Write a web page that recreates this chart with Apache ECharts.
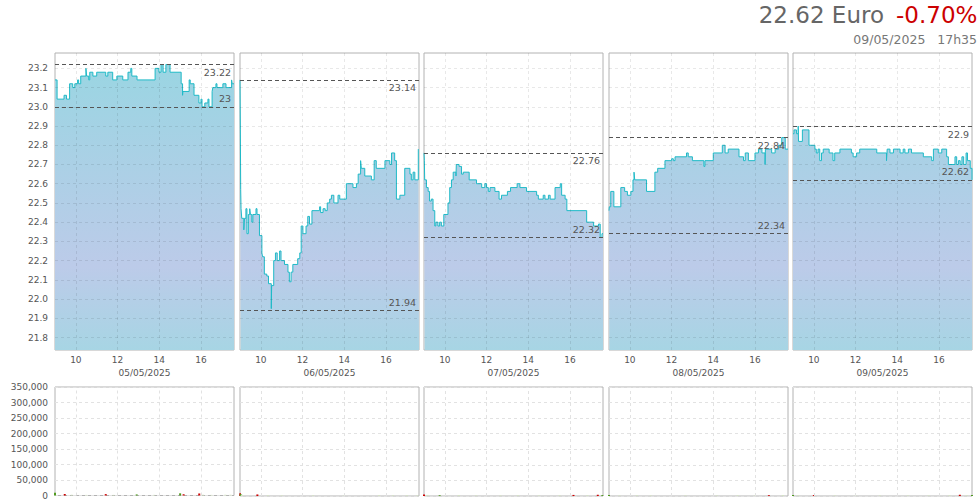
<!DOCTYPE html>
<html><head><meta charset="utf-8">
<script src="https://cdn.jsdelivr.net/npm/echarts@6/dist/echarts.min.js"></script>
<style>html,body{margin:0;padding:0;background:#fff}#c{width:980px;height:500px}</style>
</head><body><div id="c"></div>
<script>
// ---- data ----
const lastPriceText = '22.62 Euro';
const changeText = '-0.70%';
const stampText = '09/05/2025   17h35';
const dayLabels = ['05/05/2025', '06/05/2025', '07/05/2025', '08/05/2025', '09/05/2025'];
const hourTicks = [10, 12, 14, 16];
const priceTicks = [21.8, 21.9, 22.0, 22.1, 22.2, 22.3, 22.4, 22.5, 22.6, 22.7, 22.8, 22.9, 23.0, 23.1, 23.2];
const dayHigh = [23.22, 23.14, 22.76, 22.84, 22.9];
const dayLow = [23, 21.94, 22.32, 22.34, 22.62];

const d1Times = ['09:00','09:06','09:26','09:33','09:42','09:51','09:57','10:05','10:08','10:14','10:29','10:31','10:37','10:40','10:49','11:00','11:26','11:32','11:46','11:58','12:15','12:30','12:38','12:41','12:56','13:48','13:59','14:05','14:11','14:19','14:31','15:03','15:07','15:08','15:26','15:29','15:40','15:54','16:00','16:03','16:11','16:20','16:23','16:32','16:34','16:43','16:46','17:03','17:12','17:28','17:30','17:35'];
const d1Prices = [23.14,23.04,23.06,23.04,23.12,23.10,23.12,23.14,23.12,23.16,23.20,23.16,23.14,23.18,23.16,23.18,23.16,23.18,23.14,23.16,23.14,23.18,23.20,23.16,23.14,23.20,23.18,23.22,23.18,23.22,23.18,23.12,23.06,23.08,23.14,23.12,23.06,23.02,23.04,23.00,23.02,23.04,23.00,23.08,23.10,23.12,23.10,23.12,23.10,23.14,23.12,23.12];

const d2Times = ['09:00','09:01','09:02','09:03','09:05','09:11','09:13','09:17','09:20','09:24','09:28','09:30','09:34','09:37','09:46','09:49','09:56','10:03','10:05','10:10','10:17','10:22','10:30','10:31','10:37','10:42','10:47','10:54','10:58','11:08','11:18','11:22','11:27','11:32','11:46','11:52','11:56','12:01','12:10','12:15','12:20','12:27','12:49','12:52','12:59','13:05','13:11','13:18','13:23','13:30','13:42','13:47','14:06','14:25','14:35','14:40','14:47','14:49','14:59','15:18','15:26','15:32','15:57','16:11','16:16','16:25','16:30','16:40','16:54','17:09','17:13','17:18','17:23','17:33','17:35'];
const d2Prices = [23.14,22.88,22.57,22.47,22.42,22.36,22.42,22.47,22.34,22.44,22.47,22.44,22.40,22.44,22.47,22.44,22.33,22.24,22.22,22.13,22.12,22.08,21.95,22.07,22.20,22.24,22.20,22.25,22.20,22.18,22.14,22.09,22.14,22.18,22.21,22.24,22.38,22.34,22.38,22.43,22.39,22.46,22.48,22.45,22.47,22.46,22.50,22.52,22.54,22.50,22.54,22.52,22.60,22.58,22.60,22.65,22.72,22.68,22.64,22.62,22.72,22.68,22.72,22.70,22.76,22.72,22.52,22.54,22.68,22.65,22.62,22.66,22.62,22.78,22.78];

const d3Times = ['09:00','09:01','09:02','09:07','09:12','09:16','09:21','09:26','09:31','09:34','09:40','09:45','09:50','09:57','10:09','10:14','10:19','10:24','10:32','10:33','10:41','10:48','10:53','11:10','11:31','11:46','11:55','12:00','12:05','12:10','12:24','12:36','12:43','13:00','13:09','13:28','13:36','13:55','14:24','14:29','14:43','14:48','14:58','15:03','15:17','15:32','15:36','15:46','15:51','16:48','17:08','17:22','17:27','17:32','17:35'];
const d3Prices = [22.76,22.72,22.62,22.58,22.56,22.51,22.52,22.46,22.38,22.40,22.38,22.40,22.38,22.44,22.50,22.58,22.62,22.66,22.64,22.70,22.69,22.65,22.66,22.62,22.60,22.58,22.60,22.58,22.56,22.58,22.56,22.52,22.54,22.56,22.58,22.60,22.58,22.56,22.54,22.52,22.54,22.52,22.54,22.52,22.58,22.60,22.54,22.52,22.46,22.40,22.38,22.39,22.32,22.34,22.34];

const d4Times = ['09:00','09:01','09:05','09:14','09:34','09:45','09:53','10:03','10:09','10:12','10:14','10:48','11:12','11:20','11:41','12:00','12:05','12:10','12:43','12:48','13:00','13:33','13:36','14:00','14:26','14:34','14:43','15:14','15:27','15:32','15:41','16:00','16:10','16:20','16:29','16:30','16:48','16:58','17:08','17:17','17:27','17:35'];
const d4Prices = [22.46,22.48,22.56,22.48,22.58,22.56,22.54,22.56,22.62,22.66,22.62,22.56,22.66,22.68,22.72,22.73,22.72,22.74,22.76,22.74,22.72,22.69,22.72,22.76,22.80,22.76,22.78,22.74,22.72,22.76,22.72,22.76,22.78,22.76,22.70,22.78,22.76,22.78,22.80,22.84,22.78,22.78];

const d5Times = ['09:00','09:03','09:10','09:15','09:16','09:27','09:46','10:03','10:07','10:12','10:17','10:22','10:27','10:44','10:55','11:00','11:15','11:48','11:53','12:03','12:12','13:01','13:29','13:31','13:39','13:49','14:08','14:17','14:22','14:32','14:41','15:15','15:39','15:44','15:58','16:08','16:22','16:27','16:46','16:51','16:56','17:01','17:06','17:11','17:18','17:22','17:30','17:35'];
const d5Prices = [22.86,22.88,22.86,22.90,22.82,22.88,22.80,22.78,22.76,22.78,22.72,22.76,22.78,22.76,22.72,22.76,22.78,22.76,22.74,22.76,22.78,22.76,22.72,22.78,22.76,22.78,22.76,22.78,22.76,22.78,22.76,22.74,22.72,22.78,22.76,22.78,22.74,22.70,22.74,22.70,22.72,22.70,22.74,22.70,22.76,22.72,22.68,22.62];

const v1Times = ['09:00','09:28','09:48','10:30','11:26','11:48','12:55','13:45','15:00','15:10','15:55','16:06','16:30','17:10','17:25'];
const v1Vols = [9000,5000,2500,2000,4500,2000,3500,2000,7000,4000,6500,2500,2000,2500,2500];
const v1Dirs = ['u','d','n','n','d','n','u','n','u','d','d','n','n','n','n'];
const v2Times = ['09:00','09:02','09:05','09:50','10:20','11:00','12:30','14:00','15:40','16:20','17:00','17:30'];
const v2Vols = [9000,6000,4000,5000,2500,2000,2000,2000,2500,2000,2500,2000];
const v2Dirs = ['d','u','n','d','n','n','n','n','n','n','n','n'];
const v3Times = ['09:00','09:10','09:45','10:40','11:30','12:40','13:30','14:30','15:30','16:10','16:50','17:20','17:33'];
const v3Vols = [5000,3500,2500,3000,2000,2000,2500,2000,2500,3500,2500,4000,3000];
const v3Dirs = ['d','n','u','n','n','n','n','n','n','d','n','d','u'];
const v4Times = ['09:00','09:30','10:20','11:00','12:40','14:10','15:10','16:00','16:40','17:20'];
const v4Vols = [3500,2000,2500,2000,2000,2000,2500,2000,2500,3000];
const v4Dirs = ['u','n','n','n','n','n','n','n','d','n'];
const v5Times = ['09:00','09:15','10:00','11:00','12:00','13:10','14:30','15:30','16:30','17:00','17:20','17:35'];
const v5Vols = [3500,2500,3000,2000,2500,2000,2000,2000,2500,4000,2500,3000];
const v5Dirs = ['u','n','d','n','n','n','n','n','n','d','n','u'];

// ---- build ----
const days = [
  [d1Times, d1Prices, v1Times, v1Vols, v1Dirs],
  [d2Times, d2Prices, v2Times, v2Vols, v2Dirs],
  [d3Times, d3Prices, v3Times, v3Vols, v3Dirs],
  [d4Times, d4Prices, v4Times, v4Vols, v4Dirs],
  [d5Times, d5Prices, v5Times, v5Vols, v5Dirs]
];
function hrs(s) { const p = s.split(':'); return +p[0] + (+p[1]) / 60; }
const FONT = 'DejaVu Sans';
const TXT = '#555';
const X_MIN = 9, X_MAX = 17 + 35 / 60;
const LEFTS = [55, 240, 424, 609, 793], W = 179;
const P_TOP = 53, P_H = 297, V_TOP = 387, V_H = 109;
const dirColor = { u: '#4f9a1e', d: '#cc0000', n: '#d3e4c0' };
const gridLS = { color: 'rgba(0,0,0,0.09)', type: [3, 3], width: 1 };

const grid = [], xAxis = [], yAxis = [], series = [];
days.forEach((d, i) => {
  const [t, p, vt, vv, vd] = d;
  grid.push({ left: LEFTS[i], top: P_TOP, width: W, height: P_H, show: true, borderColor: '#b2b2b2', borderWidth: 1 });
  grid.push({ left: LEFTS[i], top: V_TOP, width: W, height: V_H, show: true, borderColor: '#b2b2b2', borderWidth: 1 });
  xAxis.push({
    type: 'value', gridIndex: 2 * i, min: X_MIN, max: X_MAX,
    axisLine: { show: false }, axisTick: { show: false }, splitLine: { show: false },
    axisLabel: { customValues: hourTicks, color: TXT, fontSize: 9, fontFamily: FONT, margin: 5, formatter: v => String(v) },
    name: dayLabels[i], nameLocation: 'middle', nameGap: 18,
    nameTextStyle: { color: TXT, fontSize: 9, fontFamily: FONT }
  });
  xAxis.push({
    type: 'value', gridIndex: 2 * i + 1, min: X_MIN, max: X_MAX,
    axisLine: { show: false }, axisTick: { show: false }, splitLine: { show: false }, axisLabel: { show: false }
  });
  yAxis.push({
    type: 'value', gridIndex: 2 * i, min: 21.735, max: 23.28,
    axisLine: { show: false }, axisTick: { show: false }, splitLine: { show: false },
    axisLabel: { show: i === 0, customValues: priceTicks, color: TXT, fontSize: 9, fontFamily: FONT, margin: 7, formatter: v => v.toFixed(1) }
  });
  yAxis.push({
    type: 'value', gridIndex: 2 * i + 1, min: 0, max: 350000, interval: 50000,
    axisLine: { show: false }, axisTick: { show: false },
    splitLine: { show: true, lineStyle: { color: '#e2e2e2', type: [3, 3] } },
    axisLabel: { show: i === 0, color: TXT, fontSize: 9, fontFamily: FONT, margin: 7, formatter: v => v.toLocaleString('en-US') }
  });
  const ml = [];
  hourTicks.forEach(h => ml.push({ xAxis: h, lineStyle: gridLS, label: { show: false } }));
  priceTicks.forEach(v => ml.push({ yAxis: v, lineStyle: gridLS, label: { show: false } }));
  ml.push({ yAxis: dayHigh[i], lineStyle: { color: '#555', type: [4, 3], width: 1 },
    label: { show: true, position: 'insideEndBottom', distance: 3, formatter: String(dayHigh[i]), color: TXT, fontSize: 9.5, fontFamily: FONT } });
  ml.push({ yAxis: dayLow[i], lineStyle: { color: '#555', type: [4, 3], width: 1 },
    label: { show: true, position: 'insideEndTop', distance: 3, formatter: String(dayLow[i]), color: TXT, fontSize: 9.5, fontFamily: FONT } });
  series.push({
    type: 'line', xAxisIndex: 2 * i, yAxisIndex: 2 * i, step: 'end', symbol: 'none', silent: true,
    data: t.map((s, k) => [hrs(s), p[k]]),
    lineStyle: { color: '#1fbac7', width: 1 },
    areaStyle: { origin: 'start', opacity: 1, color: { type: 'linear', x: 0, y: P_TOP, x2: 0, y2: P_TOP + P_H, global: true,
      colorStops: [{ offset: 0, color: '#98d6e2' }, { offset: 0.72, color: '#bccbe9' }, { offset: 1, color: '#a7d5e4' }] } },
    markLine: { symbol: ['none', 'none'], silent: true, animation: false, data: ml }
  });
  series.push({
    type: 'bar', xAxisIndex: 2 * i + 1, yAxisIndex: 2 * i + 1, barWidth: 2, silent: true,
    data: vt.map((s, k) => ({ value: [hrs(s), vv[k]], itemStyle: { color: dirColor[vd[k]] } })),
    markLine: { symbol: ['none', 'none'], silent: true, animation: false,
      data: hourTicks.map(h => ({ xAxis: h, lineStyle: { color: '#e2e2e2', type: [3, 3], width: 1 }, label: { show: false } })) }
  });
});

const chart = echarts.init(document.getElementById('c'), null, { renderer: 'svg' });
chart.setOption({
  animation: false,
  backgroundColor: '#fff',
  grid, xAxis, yAxis, series,
  graphic: [
    { type: 'text', x: 884, y: 15, style: { text: lastPriceText, fill: '#666', font: '23px "DejaVu Sans"', align: 'right', textAlign: 'right', verticalAlign: 'middle', textVerticalAlign: 'middle' } },
    { type: 'text', x: 896, y: 15, style: { text: changeText, fill: '#cc0000', font: '23px "DejaVu Sans"', align: 'left', textAlign: 'left', verticalAlign: 'middle', textVerticalAlign: 'middle' } },
    { type: 'text', x: 977, y: 39.5, style: { text: stampText, fill: '#777', font: '12.5px "DejaVu Sans"', align: 'right', textAlign: 'right', verticalAlign: 'middle', textVerticalAlign: 'middle' } }
  ]
});
</script>
</body></html>
